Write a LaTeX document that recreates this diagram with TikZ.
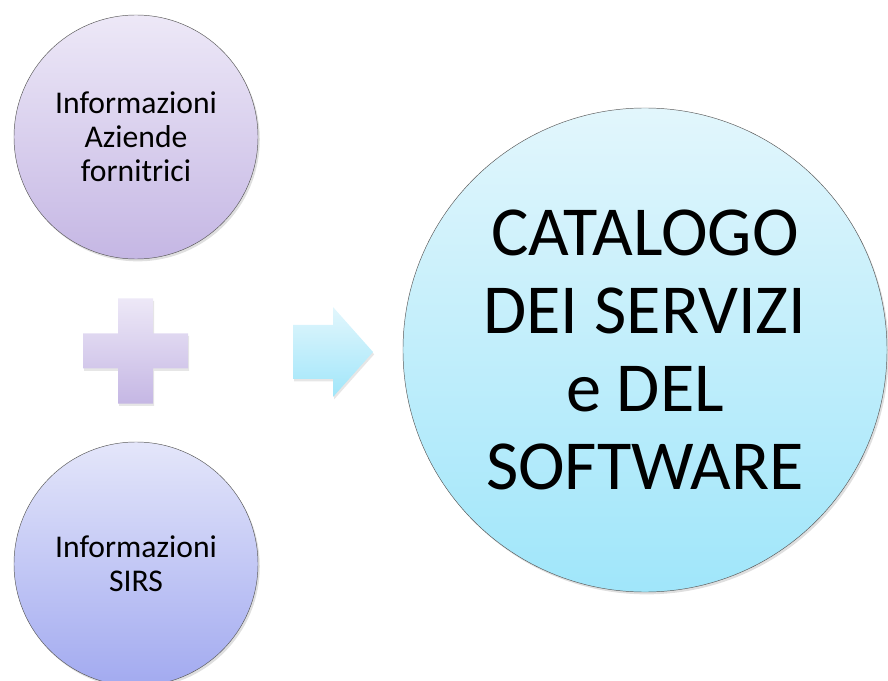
\documentclass[tikz,border=0pt]{standalone}
\usepackage{fontspec}
\setmainfont{Carlito}
\usepackage{tikz}
\usetikzlibrary{shapes,shadows,positioning,calc}
\definecolor{lilactop}{RGB}{237,232,247}
\definecolor{lilacbot}{RGB}{197,183,228}
\definecolor{periwtop}{RGB}{228,230,250}
\definecolor{periwbot}{RGB}{162,170,240}
\definecolor{cyantop}{RGB}{226,246,252}
\definecolor{cyanbot}{RGB}{160,230,250}
\definecolor{rimgray}{RGB}{90,90,90}

\begin{document}
\begin{tikzpicture}[
    x=0.03cm, y=-0.03cm,
    bubble/.style={circle, draw=rimgray, line width=0.4pt, align=center, inner sep=0pt,
        drop shadow={shadow xshift=1.5pt, shadow yshift=-2pt, opacity=0.25}},
    small/.style={bubble, minimum size=7.32cm, font=\fontsize{27}{29}\selectfont},
    big/.style={bubble, minimum size=14.52cm, font=\fontsize{60}{66.5}\selectfont},
    sign/.style={drop shadow={shadow xshift=1pt, shadow yshift=-2pt, opacity=0.2}}
]
    \useasboundingbox (0,0) rectangle (888,681);
    \clip (0,0) rectangle (888,681);

    \node[small, top color=lilactop, bottom color=lilacbot] (aziende) at (136,137) {Informazioni\\Aziende\\fornitrici};
    \node[small, top color=periwtop, bottom color=periwbot] (sirs) at (136,564) {Informazioni\\SIRS};
    \node[big, top color=cyantop, bottom color=cyanbot] (catalogo) at (645,350) {CATALOGO\\DEI SERVIZI\\e DEL\\SOFTWARE};

    % plus sign and arrow
    \coordinate (plus) at (135.5,351);
    \coordinate (arrow) at (293,352);
    \path[sign, top color=lilactop, bottom color=lilacbot]
        ($(plus)+(-17.5,-52.5)$) -- ++(35,0) -- ++(0,35) -- ++(35,0) -- ++(0,35)
        -- ++(-35,0) -- ++(0,35) -- ++(-35,0) -- ++(0,-35) -- ++(-35,0)
        -- ++(0,-35) -- ++(35,0) -- cycle;
    \path[sign, top color=cyantop, bottom color=cyanbot]
        ($(arrow)+(0,-27)$) -- ++(40,0) -- ++(0,-18) -- ++(40,45) -- ++(-40,45)
        -- ++(0,-18) -- ++(-40,0) -- cycle;
\end{tikzpicture}
\end{document}
